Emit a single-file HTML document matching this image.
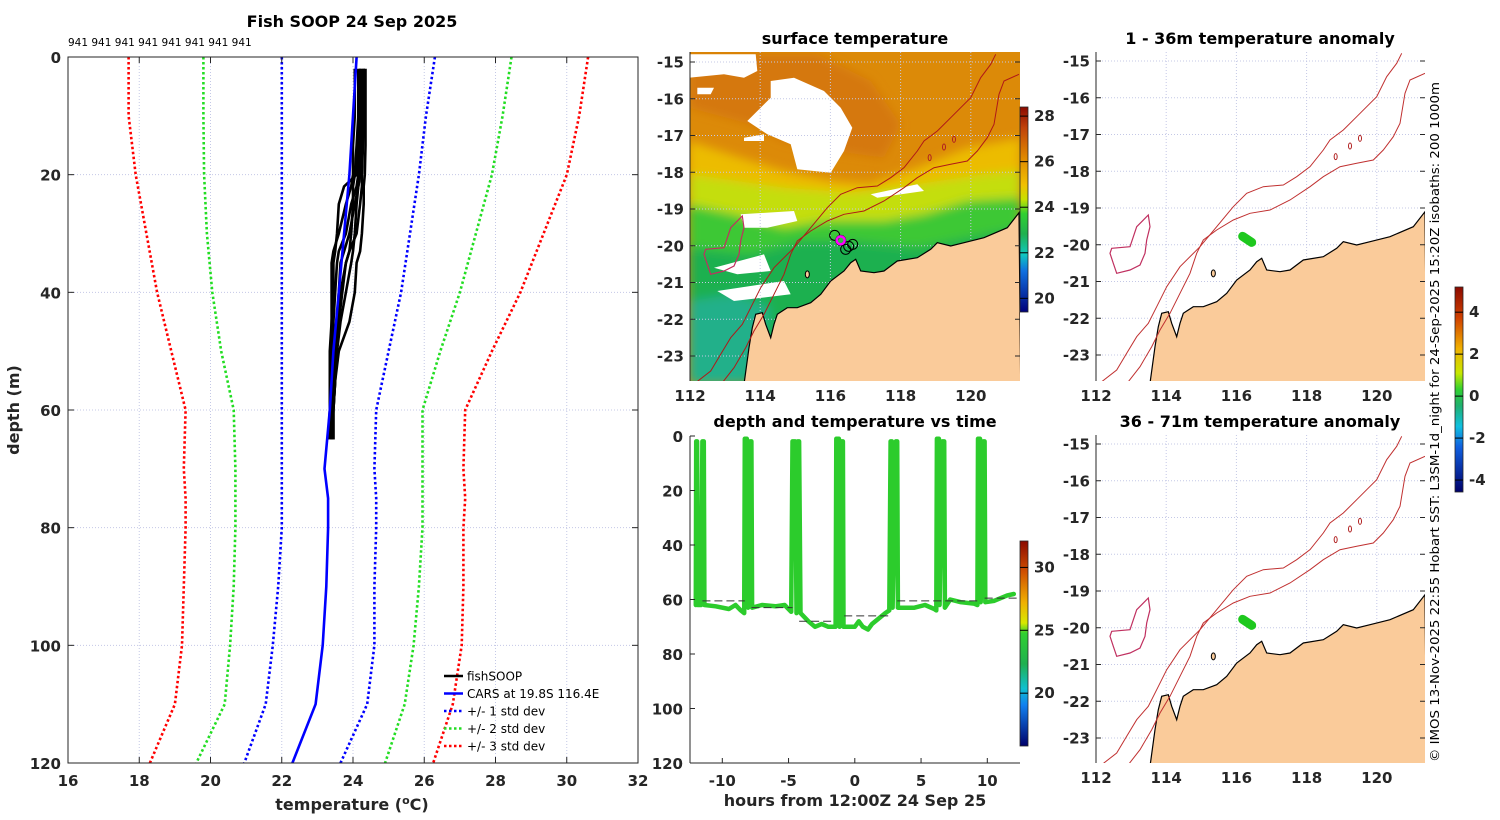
<!DOCTYPE html>
<html><head><meta charset="utf-8">
<style>
html,body{margin:0;padding:0;background:#fff;}
svg{display:block;font-family:"DejaVu Sans","Liberation Sans",sans-serif;}
.tk{font-weight:bold;font-size:15px;fill:#262626;}
.ttl{font-weight:bold;font-size:16px;fill:#000;}
</style></head>
<body>
<svg id="fig" width="1500" height="820" viewBox="0 0 1500 820" xmlns="http://www.w3.org/2000/svg">
<defs>
<clipPath id="clipP1"><rect x="68" y="57" width="570" height="706"/></clipPath>
<clipPath id="clipM2"><rect x="690" y="52" width="330" height="329"/></clipPath>
<clipPath id="clipM4"><rect x="1096" y="52" width="329" height="329"/></clipPath>
<clipPath id="clipM5"><rect x="1096" y="435" width="329" height="328"/></clipPath>
<filter id="blur"><feGaussianBlur stdDeviation="5"/></filter>
<linearGradient id="cbSST" x1="0" y1="0" x2="0" y2="1">
<stop offset="0" stop-color="#8b0a00"/><stop offset="0.1" stop-color="#c0420a"/><stop offset="0.25" stop-color="#e08a00"/>
<stop offset="0.38" stop-color="#f0c000"/><stop offset="0.45" stop-color="#c8e000"/><stop offset="0.52" stop-color="#30d030"/>
<stop offset="0.62" stop-color="#20b050"/><stop offset="0.72" stop-color="#10c8c0"/><stop offset="0.8" stop-color="#1070e0"/>
<stop offset="1" stop-color="#00007a"/></linearGradient>
<linearGradient id="cbDT" x1="0" y1="0" x2="0" y2="1">
<stop offset="0" stop-color="#8b0a00"/><stop offset="0.15" stop-color="#d05000"/><stop offset="0.3" stop-color="#f0b000"/>
<stop offset="0.4" stop-color="#d8e800"/><stop offset="0.45" stop-color="#30d030"/><stop offset="0.6" stop-color="#20b050"/>
<stop offset="0.72" stop-color="#10c0d0"/><stop offset="0.8" stop-color="#1080f0"/><stop offset="1" stop-color="#00006a"/></linearGradient>
<linearGradient id="cbAN" x1="0" y1="0" x2="0" y2="1">
<stop offset="0" stop-color="#8b0a00"/><stop offset="0.15" stop-color="#d04000"/><stop offset="0.3" stop-color="#f0b000"/>
<stop offset="0.42" stop-color="#c8e800"/><stop offset="0.5" stop-color="#30d030"/><stop offset="0.58" stop-color="#20b070"/>
<stop offset="0.68" stop-color="#10c0e0"/><stop offset="0.78" stop-color="#1060e0"/><stop offset="1" stop-color="#00006a"/></linearGradient>
</defs>
<g id="root"></g>
</svg>
<script>
// ---------- Panel 1 data ----------
const carsDepth=[0,10,20,30,40,50,60,70,75,80,90,100,110,120];
const carsMean=[24.1,24.0,23.9,23.75,23.6,23.45,23.35,23.2,23.3,23.3,23.25,23.15,22.95,22.3];
const lo1=[22.0,22.0,22.0,22.0,22.0,22.0,22.0,22.0,22.0,22.0,21.9,21.75,21.55,20.95];
const hi1=[26.3,26.05,25.85,25.6,25.35,25.0,24.65,24.6,24.65,24.65,24.6,24.6,24.4,23.65];
const lo2=[19.8,19.8,19.82,19.9,20.05,20.3,20.65,20.7,20.7,20.7,20.65,20.55,20.4,19.6];
const hi2=[28.45,28.2,27.9,27.45,27.0,26.45,25.95,25.95,25.95,25.95,25.85,25.7,25.45,24.9];
const lo3=[17.7,17.7,17.9,18.2,18.5,18.9,19.3,19.25,19.3,19.3,19.25,19.2,19.0,18.3];
const hi3=[30.6,30.35,30.0,29.35,28.7,27.9,27.15,27.1,27.15,27.1,27.1,27.05,26.8,26.25];
const soopDepth=[2,5,10,15,20,22,25,30,33,35,40,45,50,55,60,65];
const soopA=[24.35,24.35,24.35,24.35,24.33,24.3,24.3,24.25,24.2,24.1,24.05,23.9,23.6,23.5,23.45,23.4];
const soopB=[24.3,24.3,24.3,24.28,24.25,24.25,24.2,24.1,23.9,23.8,23.7,23.6,23.5,23.45,23.4,23.4];
const soopC=[24.2,24.2,24.2,24.15,24.1,23.75,23.6,23.55,23.5,23.45,23.45,23.4,23.4,23.4,23.35,23.35];
const soopD=[24.05,24.05,24.05,24.0,24.0,23.95,23.8,23.6,23.45,23.4,23.4,23.4,23.35,23.35,23.35,23.3];
const soopE=[24.25,24.25,24.25,24.2,24.2,24.15,24.1,24.05,24.0,23.95,23.8,23.65,23.55,23.5,23.45,23.45];
const soopF=[24.15,24.15,24.15,24.1,24.05,24.0,24.0,23.95,23.9,23.8,23.65,23.55,23.5,23.45,23.4,23.4];
const soopG=[24.3,24.3,24.28,24.25,24.2,24.15,24.05,23.9,23.75,23.65,23.6,23.55,23.5,23.5,23.45,23.45];
const soopH=[24.2,24.2,24.2,24.2,24.15,24.1,23.95,23.8,23.6,23.55,23.5,23.45,23.45,23.4,23.4,23.4];
const tempTicks=[16,18,20,22,24,26,28,30,32];
const depthTicks=[0,20,40,60,80,100,120];
// ---------- Panel 3 data ----------
const trackHours=[-12.0,-11.97,-11.9,-11.85,-11.6,-11.5,-11.4,-11.35,-10.5,-9.5,-9,-8.6,-8.35,-8.3,-8.15,-8.05,-7.9,-7.8,-7.75,-7,-6,-5.3,-4.8,-4.7,-4.5,-4.4,-4.3,-4.2,-4.1,-3.5,-3,-2.5,-2,-1.45,-1.4,-1.2,-1.15,-1.05,-0.9,-0.85,0,0.3,0.6,1,1.3,1.8,2.3,2.6,2.7,2.8,2.85,3.1,3.2,3.25,4.5,5.3,6.0,6.15,6.2,6.35,6.4,6.6,6.75,6.8,7.2,8,9,9.25,9.3,9.45,9.5,9.7,9.8,9.85,10.5,11.5,12];
const trackDepth=[62,2,2,62,62,2,2,62,62.5,63.5,62,64,65,1,1,63,2,2,63,62,62.5,62,64.5,2,2,65,2,2,65,68,70,69,70,70,1,1,70,2,2,70,70,68,70,71,69,67,65,64,2,2,63,2,2,63,63,62,63.5,64,1,1,62,2,2,63,60,61,61.5,62,1,1,61,2,2,61,60.5,58.5,58];
const bottomStart=[-11.5,-7.8,-4.2,-0.8,3.2,9.8];
const bottomEnd=[-8.3,-4.7,-1.5,2.7,9.3,12.5];
const bottomDepth=[60.5,63,68,66,60.5,59.5];
const hourTicks=[-10,-5,0,5,10];
const latTicks=[-15,-16,-17,-18,-19,-20,-21,-22,-23];
const lonTicks=[112,114,116,118,120];
const sstTicks=[20,22,24,26,28];
const dtTicks=[20,25,30];
const anTicks=[4,2,0,-2,-4];

const NS="http://www.w3.org/2000/svg";
const root=document.getElementById('root');
function mk(tag,attrs,parent){const e=document.createElementNS(NS,tag);for(const k in attrs)e.setAttribute(k,attrs[k]);(parent||root).appendChild(e);return e;}
function txt(x,y,s,cls,anchor,parent,extra){const t=mk('text',Object.assign({x:x,y:y,'text-anchor':anchor||'middle'},extra||{}),parent);if(cls)t.setAttribute('class',cls);t.textContent=s;return t;}

// ===== Panel 1 =====
const P1={x0:68,x1:638,y0:57,y1:763};
const tx=t=>P1.x0+(t-16)/16*(P1.x1-P1.x0);
const dy=d=>P1.y0+d/120*(P1.y1-P1.y0);
const g1=mk('g',{});


tempTicks.forEach(t=>{if(t>16&&t<32){const l=mk('line',{x1:tx(t),x2:tx(t),y1:P1.y0,y2:P1.y1,stroke:'#c4c8e6','stroke-width':1,'stroke-dasharray':'1,2'},g1);}});
depthTicks.forEach(d=>{if(d>0&&d<120){const l=mk('line',{x1:P1.x0,x2:P1.x1,y1:dy(d),y2:dy(d),stroke:'#c4c8e6','stroke-width':1,'stroke-dasharray':'1,2'},g1);}});
const gp1=mk('g',{'clip-path':'url(#clipP1)'},g1);
function series(temps,depths,color,dash,name){const pts=temps.map((t,i)=>tx(t).toFixed(1)+','+dy(depths[i]).toFixed(1)).join(' ');const p=mk('polyline',{points:pts,fill:'none',stroke:color,'stroke-width':2.6,'stroke-dasharray':dash?'2.5,2.5':'none','stroke-linejoin':'round'},gp1);}
series(lo3,carsDepth,'#ff0000',true,'minus-3-std-line');series(hi3,carsDepth,'#ff0000',true,'plus-3-std-line');
series(lo2,carsDepth,'#22dd22',true,'minus-2-std-line');series(hi2,carsDepth,'#22dd22',true,'plus-2-std-line');
series(lo1,carsDepth,'#0000ff',true,'minus-1-std-line');series(hi1,carsDepth,'#0000ff',true,'plus-1-std-line');
[soopA,soopB,soopC,soopD,soopE,soopF,soopG,soopH].forEach((p,i)=>series(p,soopDepth,'#000',false,'fishsoop-profile-'+(i+1)));
series(carsMean,carsDepth,'#0000ff',false,'cars-mean-line');
const box1=mk('rect',{x:P1.x0,y:P1.y0,width:P1.x1-P1.x0,height:P1.y1-P1.y0,fill:'none',stroke:'#262626','stroke-width':1},g1);

tempTicks.forEach(t=>{mk('line',{x1:tx(t),x2:tx(t),y1:P1.y1,y2:P1.y1-6,stroke:'#262626'},g1);mk('line',{x1:tx(t),x2:tx(t),y1:P1.y0,y2:P1.y0+6,stroke:'#262626'},g1);
 const l=txt(tx(t),786,String(t),'tk','middle',g1);});
depthTicks.forEach(d=>{mk('line',{x1:P1.x0,x2:P1.x0+6,y1:dy(d),y2:dy(d),stroke:'#262626'},g1);mk('line',{x1:P1.x1,x2:P1.x1-6,y1:dy(d),y2:dy(d),stroke:'#262626'},g1);
 const l=txt(61,dy(d)+6,String(d),'tk','end',g1);});
let t1=txt(352,27,'Fish SOOP 24 Sep 2025','ttl','middle',g1,{'font-size':'17'});
let t2=txt(68,46,'941 941 941 941 941 941 941 941',null,'start',g1,{'font-size':'10.5',fill:'#000'});
let xt=mk('text',{x:352,y:810,'text-anchor':'middle','font-size':'16','font-weight':'bold',fill:'#262626'},g1);
xt.innerHTML='temperature (<tspan dy="-6" font-size="11">o</tspan><tspan dy="6">C)</tspan>';

let yt=txt(0,0,'depth (m)',null,'middle',g1,{transform:'translate(19,410) rotate(-90)','font-size':'16','font-weight':'bold',fill:'#262626'});

const lg=mk('g',{},g1);
[['fishSOOP','#000',false],['CARS at 19.8S 116.4E','#0000ff',false],['+/- 1 std dev','#0000ff',true],['+/- 2 std dev','#22dd22',true],['+/- 3 std dev','#ff0000',true]].forEach((e,i)=>{
 const y=676+i*17.5;const ge=mk('g',{},lg);
 mk('line',{x1:444,x2:463,y1:y,y2:y,stroke:e[1],'stroke-width':2.6,'stroke-dasharray':e[2]?'2.5,2.5':'none'},ge);
 txt(467,y+4.5,e[0],null,'start',ge,{'font-size':'12',fill:'#000'});});

// ===== Maps =====
const DEG=35.1, LDEG=36.75;
function mapProj(x0,y15){return {x:lon=>x0+(lon-112)*DEG,y:lat=>y15+(-15-lat)*LDEG};}
function z2ll(zx,zy){const X=1090+zx/3,Y=40+zy/3;return [112+(X-1096)/DEG,-15-(Y-61)/LDEG];}
const coastZ=[[1005,515],[970,560],[900,590],[840,605],[800,615],[760,605],[740,625],[700,650],[640,660],[600,690],[570,695],[530,690],[515,655],[500,665],[480,690],[440,720],[410,760],[380,785],[340,800],[310,800],[280,820],[270,850],[260,890],[245,850],[235,815],[215,820],[205,860],[195,920],[180,1030],[1010,1030]];
const iso1Z=[[35,1025],[80,990],[110,940],[140,890],[175,850],[200,800],[230,740],[270,680],[330,620],[380,560],[430,500],[470,460],[520,440],[580,435],[620,410],[660,380],[700,330],[720,300],[760,270],[800,230],[830,200],[860,170],[890,110],[920,70],[935,40]];
const iso2Z=[[115,1025],[150,980],[185,920],[210,870],[240,820],[270,760],[300,700],[320,640],[340,600],[380,570],[430,540],[480,520],[540,510],[600,480],[660,440],[700,410],[750,380],[800,370],[850,360],[880,330],[910,290],[930,250],[945,160],[960,120],[1005,100]];
const islandZ=[[65,625],[120,620],[140,560],[175,525],[180,560],[170,600],[165,640],[150,675],[120,690],[80,700],[70,670],[60,640]];
const smallIsl=[[737,350],[780,318],[810,295]];
function path(pts,P,close){return pts.map((p,i)=>{const ll=z2ll(p[0],p[1]);return (i?'L':'M')+P.x(ll[0]).toFixed(1)+','+P.y(ll[1]).toFixed(1);}).join('')+(close?'Z':'');}

function drawMap(x0,y0,w,h,y15,clip,name,kind){
 const P=mapProj(x0,y15);const g=mk('g',{});
 const gc=mk('g',{'clip-path':'url(#'+clip+')'},g);
 if(kind==='sst'){
  mk('rect',{x:x0,y:y0,width:w,height:h,fill:'#dc8a08'},gc);
  const gb=mk('g',{filter:'url(#blur)'},gc);
  mk('path',{d:path([[15,40],[400,40],[560,120],[650,250],[600,350],[450,330],[300,300],[200,250],[15,200]],P,true),fill:'#d27010',opacity:0.7},gb);
  mk('path',{d:path([[15,300],[200,360],[300,390],[450,420],[560,430],[700,380],[850,320],[1010,290],[1010,1030],[15,1030]],P,true),fill:'#ecbc00'},gb);
  mk('path',{d:path([[15,400],[300,440],[500,455],[700,430],[900,400],[1010,390],[1010,1030],[15,1030]],P,true),fill:'#c4de10'},gb);
  mk('path',{d:path([[15,490],[150,520],[300,560],[420,540],[600,540],[720,520],[850,480],[1010,470],[1010,1030],[15,1030]],P,true),fill:'#3ec836'},gb);
  mk('path',{d:path([[15,620],[200,640],[350,600],[500,600],[700,620],[1010,560],[1010,1030],[15,1030]],P,true),fill:'#1eb050'},gb);
  mk('path',{d:path([[15,780],[150,760],[260,800],[240,900],[180,1030],[15,1030]],P,true),fill:'#20b08a'},gb);
  const gw=mk('g',{fill:'#fff'},gc);
  mk('path',{d:path([[15,40],[215,40],[220,90],[180,110],[120,100],[15,110]],P,true)},gw);
  mk('path',{d:path([[260,120],[330,110],[420,150],[470,200],[505,260],[480,330],[440,395],[340,385],[320,310],[250,280],[190,240],[260,170]],P,true)},gw);
  mk('path',{d:path([[560,460],[700,430],[720,450],[580,470]],P,true)},gw);
  mk('path',{d:path([[170,520],[330,510],[340,540],[250,560],[180,560]],P,true)},gw);
  mk('path',{d:path([[90,680],[240,640],[260,690],[160,700]],P,true)},gw);
  mk('path',{d:path([[100,750],[300,720],[320,760],[150,780]],P,true)},gw);
  mk('path',{d:path([[40,140],[90,140],[80,160],[40,160]],P,true)},gw);
  mk('path',{d:path([[180,290],[240,280],[240,300],[180,300]],P,true)},gw);
 }
 lonTicks.forEach(l=>{if(l>112)mk('line',{x1:P.x(l),x2:P.x(l),y1:y0,y2:y0+h,stroke:'#c4c8e6','stroke-width':1,'stroke-dasharray':'1,2'},gc);});
 latTicks.forEach(l=>mk('line',{x1:x0,x2:x0+w,y1:P.y(l),y2:P.y(l),stroke:'#c4c8e6','stroke-width':1,'stroke-dasharray':'1,2'},gc));
 const land=mk('path',{d:path(coastZ,P,true),fill:'#facb9a',stroke:'#000','stroke-width':1.2},gc);
 
 const iso=kind==='sst'?'#b01818':'#c03030';
 const a=mk('path',{d:path(iso1Z,P,false),fill:'none',stroke:iso,'stroke-width':1},gc);
 const b=mk('path',{d:path(iso2Z,P,false),fill:'none',stroke:iso,'stroke-width':1},gc);
 mk('path',{d:path(islandZ,P,true),fill:'none',stroke:'#c03060','stroke-width':1.2},gc);
 smallIsl.forEach(s=>{const ll=z2ll(s[0],s[1]);mk('ellipse',{cx:P.x(ll[0]),cy:P.y(ll[1]),rx:1.5,ry:3,fill:'none',stroke:'#b02020'},gc);});
 const ll=z2ll(370,700);mk('ellipse',{cx:P.x(ll[0]),cy:P.y(ll[1]),rx:2,ry:3.5,fill:'#facb9a',stroke:'#000'},gc);
 const c=z2ll(470,598);
 if(kind==='sst'){[[0,0],[8,6],[12,4],[5,9],[-6,-5]].forEach(o=>mk('circle',{cx:P.x(c[0])+o[0],cy:P.y(c[1])+o[1],r:5,fill:'none',stroke:'#000','stroke-width':1},gc));
  const m=mk('circle',{cx:P.x(c[0]),cy:P.y(c[1]),r:4,fill:'none',stroke:'#ff00ff','stroke-width':2.5},gc);}
 else{const d=mk('path',{d:'M'+(P.x(c[0])-4)+','+(P.y(c[1])-3)+'L'+(P.x(c[0])+5)+','+(P.y(c[1])+3),stroke:'#1ec81e','stroke-width':9,'stroke-linecap':'round'},gc);}
 mk('line',{x1:x0,x2:x0,y1:y0,y2:y0+h,stroke:'#262626'},g);
 latTicks.forEach(l=>{mk('line',{x1:x0,x2:x0+5,y1:P.y(l),y2:P.y(l),stroke:'#262626'},g);mk('line',{x1:x0+w,x2:x0+w-5,y1:P.y(l),y2:P.y(l),stroke:'#262626'},g);
  const t=txt(x0-6,P.y(l)+5.5,String(l),'tk','end',g);});
 lonTicks.forEach(l=>{const t=txt(P.x(l),y0+h+20,String(l),'tk','middle',g);});
 return g;
}
drawMap(690,52,330,329,62,'clipM2','surface-temperature-map','sst');
drawMap(1096,52,329,329,61,'clipM4','anomaly-map-1-36m','anom');
drawMap(1096,435,329,328,444,'clipM5','anomaly-map-36-71m','anom');
[[855,44,'surface temperature','sst-title'],[1260,44,'1 - 36m temperature anomaly','anom1-title'],[855,427,'depth and temperature vs time','time-title'],[1260,427,'36 - 71m temperature anomaly','anom2-title']].forEach(a=>{const t=txt(a[0],a[1],a[2],'ttl','middle');});

function colorbar(x,y0,y1,vTop,vBot,ticks,grad,name){const g=mk('g',{});
 mk('rect',{x:x,y:y0,width:8,height:y1-y0,fill:'url(#'+grad+')',stroke:'#262626','stroke-width':0.8},g);
 ticks.forEach(v=>{const y=y0+(vTop-v)/(vTop-vBot)*(y1-y0);mk('line',{x1:x,x2:x+8,y1:y,y2:y,stroke:'#000'},g);
  const t=txt(x+14,y+5,String(v),'tk','start',g,{'font-size':'13'});});}
colorbar(1020,107,312,28.4,19.4,sstTicks,'cbSST','sst-colorbar');
colorbar(1020,541,746,32.1,15.8,dtTicks,'cbDT','depth-time-colorbar');
colorbar(1455,287,492,5.2,-4.57,anTicks,'cbAN','anomaly-colorbar');

// ===== Panel 3 =====
const P3={x0:690,x1:1020,y0:436,y1:763};
const hx=h=>854.8+h*13.25;
const ddy=d=>P3.y0+d/120*(P3.y1-P3.y0);
const g3=mk('g',{});
const tr=mk('polyline',{points:trackHours.map((h,i)=>hx(h).toFixed(1)+','+ddy(trackDepth[i]).toFixed(1)).join(' '),fill:'none',stroke:'#2ccc2c','stroke-width':4.5,'stroke-linejoin':'round','stroke-linecap':'round'},g3);

bottomStart.forEach((s,i)=>{const l=mk('line',{x1:hx(s),x2:hx(bottomEnd[i]),y1:ddy(bottomDepth[i]),y2:ddy(bottomDepth[i]),stroke:'#333','stroke-width':1,'stroke-dasharray':'8,4'},g3);});
mk('line',{x1:P3.x0,x2:P3.x0,y1:P3.y0,y2:P3.y1,stroke:'#262626'},g3);
mk('line',{x1:P3.x0,x2:P3.x1,y1:P3.y1,y2:P3.y1,stroke:'#262626'},g3);
hourTicks.forEach(h=>{mk('line',{x1:hx(h),x2:hx(h),y1:P3.y1,y2:P3.y1-5,stroke:'#262626'},g3);const t=txt(hx(h),786,String(h),'tk','middle',g3);});
depthTicks.forEach(d=>{mk('line',{x1:P3.x0,x2:P3.x0+5,y1:ddy(d),y2:ddy(d),stroke:'#262626'},g3);const t=txt(683,ddy(d)+6,String(d),'tk','end',g3);});
let ht=txt(855,806,'hours from 12:00Z 24 Sep 25',null,'middle',g3,{'font-size':'16','font-weight':'bold',fill:'#262626'});

let cr=txt(0,0,'© IMOS 13-Nov-2025 22:55 Hobart SST: L3SM-1d_night for 24-Sep-2025 15:20Z isobaths: 200  1000m',null,'middle',null,{transform:'translate(1439,422) rotate(-90)','font-size':'12',fill:'#000',textLength:'680',lengthAdjust:'spacingAndGlyphs'});

</script>
</body></html>
